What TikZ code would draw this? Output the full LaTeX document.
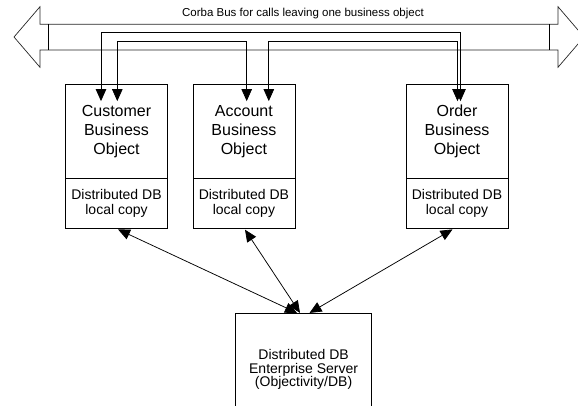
\documentclass[tikz,border=0pt]{standalone}
\usepackage{fontspec}
\setmainfont{Liberation Sans}
\usetikzlibrary{arrows.meta,calc}
\begin{document}
\begin{tikzpicture}[x=1pt,y=-1pt,line width=0.75pt,
  objbox/.style={draw, minimum width=102pt, minimum height=94pt, inner sep=0pt,
    align=center, font=\fontsize{16}{19}\selectfont},
  dbbox/.style={draw, minimum width=102pt, minimum height=50pt, inner sep=0pt,
    align=center, font=\fontsize{14}{14.5}\selectfont},
  srvbox/.style={draw, minimum width=136pt, minimum height=112.4pt, inner sep=0pt,
    align=center, font=\fontsize{14}{13.5}\selectfont},
  busline/.style={draw=black!85, line width=0.7pt, line join=miter},
  twoway/.style={{Triangle[length=12pt,width=10.5pt]}-{Triangle[length=12pt,width=10.5pt]}},
]
\clip (0,0) rectangle (578,405);

% CORBA bus: a wide double arrow
\path[busline] (14,37) -- (40,6.7) -- (40,24.3) -- (558,24.3) -- (558,6.7)
  -- (584,37) -- (558,67.3) -- (558,50) -- (40,50) -- (40,67.3) -- cycle;
\draw (48.3,24.3) -- (48.3,50);
\draw (549.7,24.3) -- (549.7,50);
\node[font=\fontsize{11.5}{13}\selectfont, anchor=base] (buslabel) at (303,16.8)
  {Corba Bus for calls leaving one business object};

% business objects with their local database copies
\node[objbox] (cust) at (116.5,131.3) {Customer\\Business\\Object};
\node[dbbox]  (custdb) at (116.5,203.3) {Distributed DB\\local copy};
\node[objbox] (acct) at (243.9,131.3) {Account\\Business\\Object};
\node[dbbox]  (acctdb) at (243.9,203.3) {Distributed DB\\local copy};
\node[objbox] (ord) at (457,131.3) {Order\\Business\\Object};
\node[dbbox]  (orddb) at (457,203.3) {Distributed DB\\local copy};

% enterprise server
\node[srvbox] (server) at (303.6,369.5) {Distributed DB\\Enterprise Server\\(Objectivity/DB)};

% ends of the bus calls inside the object boxes
\coordinate (c1) at ($(cust.north)+(-15.5,17.2)$);
\coordinate (c2) at ($(cust.north)+(0.8,17.2)$);
\coordinate (a1) at ($(acct.north)+(2.8,17.2)$);
\coordinate (a2) at ($(acct.north)+(24.9,17.2)$);
\coordinate (o1) at ($(ord.north)+(3.5,17.2)$);
\coordinate (o2) at ($(ord.north)+(0.5,17.2)$);
\coordinate (yhigh) at (0,32.7);
\coordinate (ylow) at (0,41.7);

\draw[twoway] (c1) -- (c1 |- yhigh) -| (o1);
\draw[twoway] (c2) -- (c2 |- ylow) -| (a1);
\draw[twoway] (a2) -- (a2 |- ylow) -| (o2);

% replication links to the enterprise server
\draw[twoway] ($(custdb.south)+(1.5,0.7)$) -- ($(server.north)+(-6.6,0)$);
\draw[twoway] ($(acctdb.south)+(1.1,1)$) -- ($(server.north)+(-3.6,0)$);
\draw[twoway] ($(orddb.south)+(-4.5,0.7)$) -- ($(server.north)+(5.9,0)$);
\end{tikzpicture}
\end{document}
